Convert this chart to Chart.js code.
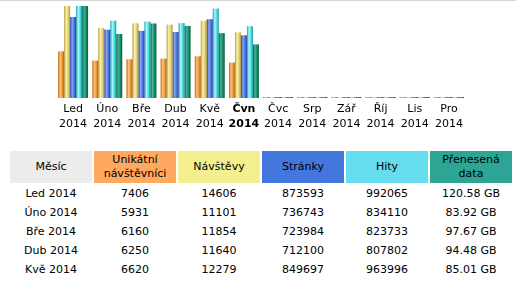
<!DOCTYPE html>
<html>
<head>
<meta charset="utf-8">
<script src="https://cdn.jsdelivr.net/npm/chart.js@4/dist/chart.umd.min.js"></script>
<style>
  html, body { margin: 0; padding: 0; background: #fff; }
  body { width: 516px; height: 281px; position: relative; overflow: hidden;
         font-family: "DejaVu Sans", Verdana, sans-serif; font-size: 11px; color: #000; }
  #topline { position: absolute; left: 0; top: 0; width: 516px; height: 1px; background: #d6d6d6; }
  #chartBox { position: absolute; left: 0; top: 0; width: 516px; height: 136px; }
  table { position: absolute; left: 8px; top: 149px; border-collapse: separate; border-spacing: 2px; }
  th { width: 82px; height: 32px; padding: 0; font-weight: normal; line-height: 14px;
       text-align: center; vertical-align: middle; }
  td { height: 17px; padding: 0; text-align: center; vertical-align: middle; line-height: 17px; }
</style>
</head>
<body>
<div id="topline"></div>
<div id="chartBox"><canvas id="histo"></canvas></div>
<table id="tbl"></table>
<script>
// months shown under the bars (Čvn is the current month)
const months = ["Led", "Úno", "Bře", "Dub", "Kvě", "Čvn", "Čvc", "Srp", "Zář", "Říj", "Lis", "Pro"]
const year = "2014"
const currentMonth = 5

// values per month (Čvn, table does not show it)
const uniqueVisitors = [7406, 5931, 6160, 6250, 6620, 5620, 0, 0, 0, 0, 0, 0]
const visits = [14606, 11101, 11854, 11640, 12279, 10430, 0, 0, 0, 0, 0, 0]
const pages = [873593, 736743, 723984, 712100, 849697, 676000, 0, 0, 0, 0, 0, 0]
const hits = [992065, 834110, 823733, 807802, 963996, 774000, 0, 0, 0, 0, 0, 0]
const bandwidthGB = [120.58, 83.92, 97.67, 94.48, 85.01, 70.2, 0, 0, 0, 0, 0, 0]

const tableRows = 5
const headers = ["Měsíc", "Unikátní<br>návštěvníci", "Návštěvy", "Stránky", "Hity", "Přenesená<br>data"]
const headerColors = ["#ececec", "#ffa860", "#f4f090", "#4477dd", "#66ddee", "#2ea495"]

// cylinder-like shading of the bar images
const shades = [
  ["#c4660c", "#f9c47a", "#eb9636", "#b85a06"],
  ["#b49c3c", "#faf2a8", "#e2d274", "#a89034"],
  ["#2242b0", "#84a4f4", "#4a74e0", "#1c38a0"],
  ["#1a9cac", "#a8fafa", "#44dce4", "#1690a0"],
  ["#006040", "#44b496", "#128a62", "#005a3a"]
]

const gradientBars = {
  id: 'gradientBars',
  beforeDatasetsDraw(chart) {
    const ctx = chart.ctx
    chart.data.datasets.forEach((ds, di) => {
      const meta = chart.getDatasetMeta(di)
      const s = shades[di]
      meta.data.forEach(el => {
        const x0 = el.x - el.width / 2
        const g = ctx.createLinearGradient(x0, 0, x0 + el.width, 0)
        g.addColorStop(0, s[0])
        g.addColorStop(0.35, s[1])
        g.addColorStop(0.7, s[2])
        g.addColorStop(1, s[3])
        el.options = Object.assign({}, el.options, {backgroundColor: g})
      })
    })
  }
}

const mk = (data, axis, color) => ({
  data: data, yAxisID: axis, backgroundColor: color,
  borderWidth: 0, minBarLength: 1,
  categoryPercentage: 30 / 34.2, barPercentage: 1
})

const hiddenAxis = (max) => ({ display: false, min: 0, max: max })

new Chart(document.getElementById('histo').getContext('2d'), {
  type: 'bar',
  data: {
    labels: months.map(m => [m, year]),
    datasets: [
      mk(uniqueVisitors, 'yv', '#ffa060'),
      mk(visits, 'yv', '#f4f090'),
      mk(pages, 'yh', '#4477dd'),
      mk(hits, 'yh', '#66ddee'),
      mk(bandwidthGB, 'yk', '#2ea495')
    ]
  },
  options: {
    responsive: true,
    maintainAspectRatio: false,
    animation: false,
    layout: { padding: { left: 56, right: 50, top: 6, bottom: 0 } },
    plugins: { legend: { display: false }, tooltip: { enabled: false } },
    scales: {
      x: {
        grid: { display: false, drawTicks: false },
        border: { display: false },
        ticks: {
          autoSkip: false, maxRotation: 0, padding: 4, color: '#000',
          font: (c) => ({ family: 'DejaVu Sans', size: 11, lineHeight: '15px',
                          weight: c.index === currentMonth ? 'bold' : 'normal' })
        }
      },
      yv: hiddenAxis(Math.max(...visits, ...uniqueVisitors)),
      yh: hiddenAxis(Math.max(...hits, ...pages)),
      yk: hiddenAxis(Math.max(...bandwidthGB))
    }
  },
  plugins: [gradientBars]
})

// table under the chart
const tbl = document.getElementById('tbl')
let html = '<tr>' + headers.map((h, i) => `<th style="background:${headerColors[i]}">${h}</th>`).join('') + '</tr>'
for (let i = 0; i < tableRows; i++) {
  html += '<tr>' +
    `<td>${months[i]} ${year}</td>` +
    `<td>${uniqueVisitors[i]}</td>` +
    `<td>${visits[i]}</td>` +
    `<td>${pages[i]}</td>` +
    `<td>${hits[i]}</td>` +
    `<td>${bandwidthGB[i].toFixed(2)} GB</td>` +
    '</tr>'
}
tbl.innerHTML = html
</script>
</body>
</html>
